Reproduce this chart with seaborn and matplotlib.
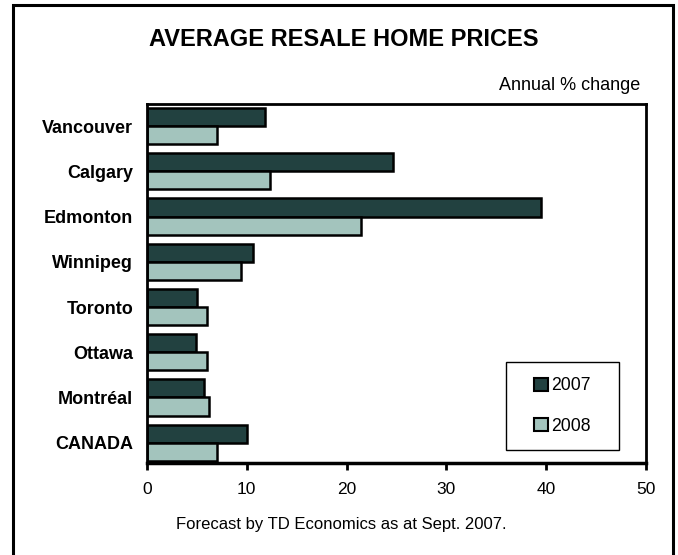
import matplotlib
matplotlib.use("Agg")
import matplotlib.pyplot as plt
import seaborn as sns
import pandas as pd
from matplotlib.patches import Rectangle, Patch

cities = ["Vancouver", "Calgary", "Edmonton", "Winnipeg", "Toronto", "Ottawa", "Montréal", "CANADA"]
y2007 = [11.8, 24.6, 39.5, 10.6, 5.0, 4.9, 5.7, 10.0]
y2008 = [7.0, 12.3, 21.4, 9.4, 6.0, 6.0, 6.2, 7.0]
years = ["2007", "2008"]
xticks = [0, 10, 20, 30, 40, 50]

df = pd.DataFrame({
    "city": cities * 2,
    "value": y2007 + y2008,
    "year": [years[0]] * len(cities) + [years[1]] * len(cities),
})

sns.set_theme(style="white")
plt.rcParams["font.family"] = ["Liberation Sans", "DejaVu Sans"]
plt.rcParams.update({"text.color": "black", "xtick.color": "black", "ytick.color": "black",
                     "axes.labelcolor": "black"})

colors = {"2007": "#224140", "2008": "#A3C4BD"}

fig = plt.figure(figsize=(6.78, 5.55), dpi=100)
ax = fig.add_axes([147 / 678, 1 - 463 / 555, (646 - 147) / 678, (463 - 104) / 555])

sns.barplot(data=df, y="city", x="value", hue="year", order=cities, hue_order=years,
            palette=colors, orient="h", width=0.8, edgecolor="black", linewidth=1.8,
            saturation=1, ax=ax, legend=False)

ax.set_xlim(0, 50)
ax.set_ylim(7.45, -0.49)
ax.set_xticks(xticks)
ax.set_xticklabels([str(t) for t in xticks], fontsize=12.5)
ax.set_xlabel("")
ax.set_ylabel("")
ax.tick_params(axis="x", direction="out", length=5, width=2, color="black", pad=9, bottom=True,
               labelcolor="black")
ax.tick_params(axis="y", length=0, pad=10, labelcolor="black")
for lab in ax.get_yticklabels():
    lab.set_fontweight("bold")
    lab.set_fontsize(13)
for s in ax.spines.values():
    s.set_color("black")
    s.set_linewidth(2)
ax.spines["bottom"].set_linewidth(2.5)

# legend box
lx0, ly0, lw, lh = 0.719, 0.036, 0.227, 0.245
ax.add_patch(Rectangle((lx0, ly0), lw, lh, transform=ax.transAxes, fill=True,
                       facecolor="white", edgecolor="black", linewidth=1, zorder=5))
handles = [Patch(facecolor=colors[y], edgecolor="black", linewidth=1.5) for y in years]
leg = ax.legend(handles, years, loc="center", bbox_to_anchor=(lx0, ly0, lw, lh),
                frameon=False, fontsize=12.7, handlelength=0.75, handleheight=0.75,
                handletextpad=0.2, labelspacing=1.35, borderpad=1.0, borderaxespad=0)
leg.set_zorder(6)

fig.text(344 / 678, 1 - 40 / 555, "AVERAGE RESALE HOME PRICES", ha="center", va="center",
         fontsize=17, fontweight="bold")
fig.text(640 / 678, 1 - 85 / 555, "Annual % change", ha="right", va="center", fontsize=13)
fig.text(341 / 678, 1 - 525 / 555, "Forecast by TD Economics as at Sept. 2007.", ha="center",
         va="center", fontsize=12)

fig.patches.append(Rectangle((12.5 / 678, -0.05), (673 - 12.5) / 678, 1.05 - 5 / 555,
                             transform=fig.transFigure, fill=False, edgecolor="black",
                             linewidth=2.2, figure=fig))

fig.savefig("out.png", dpi=100)
